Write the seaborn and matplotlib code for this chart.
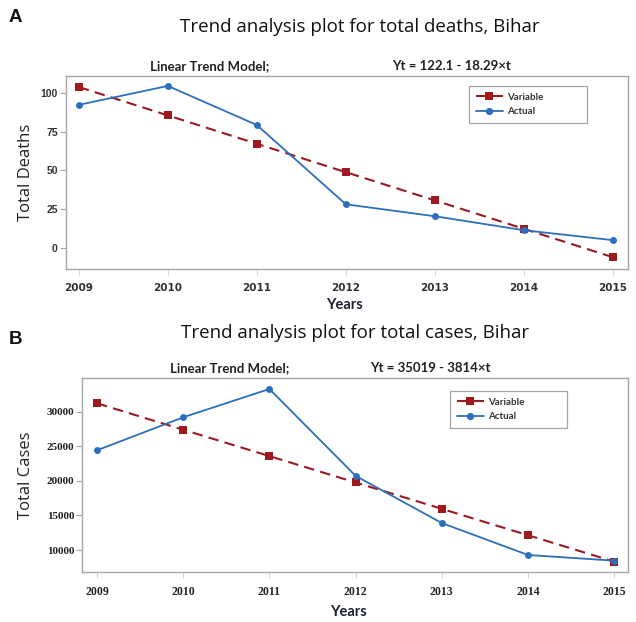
import matplotlib
matplotlib.use("Agg")
import matplotlib.pyplot as plt
import seaborn as sns
import pandas as pd

sns.set_theme(style="white")
plt.rcParams['font.family'] = ['DejaVu Sans']

years = [2009, 2010, 2011, 2012, 2013, 2014, 2015]

deaths_actual = [92.3, 104.5, 79.3, 28.2, 20.5, 11.5, 5.1]
deaths_trend = [103.8, 85.5, 67.2, 48.9, 30.7, 12.4, -5.9]

cases_actual = [24420, 29190, 33280, 20720, 13900, 9280, 8460]
cases_trend = [31205, 27391, 23577, 19763, 15949, 12135, 8321]

titles = ["Trend analysis plot for total deaths, Bihar",
          "Trend analysis plot for total cases, Bihar"]
equations = ["Yt = 122.1 - 18.29\u00d7t", "Yt = 35019 - 3814\u00d7t"]
ylabels = ["Total Deaths", "Total Cases"]
panel_letters = ["A", "B"]
deaths_yticks = [0, 25, 50, 75, 100]
cases_yticks = [10000, 15000, 20000, 25000, 30000]

RED = "#9c1a1f"
BLUE = "#2b6fbd"
SPINE = "#a6a6a6"

W, H = 636, 622
fig = plt.figure(figsize=(6.36, 6.22), dpi=100)

def px_axes(l, t, r, b):
    return fig.add_axes([l / W, 1 - b / H, (r - l) / W, (b - t) / H])

axA = px_axes(65.5, 76, 628, 269)
axB = px_axes(82, 378, 628, 571.7)

def draw(ax, actual, trend, yticks, ylim, xlim, tickfont_x, tickfont_y, leg_bbox):
    df_t = pd.DataFrame({"Year": years, "Value": trend})
    df_a = pd.DataFrame({"Year": years, "Value": actual})
    sns.lineplot(data=df_t, x="Year", y="Value", ax=ax, color=RED, marker="s",
                 markersize=5.2, markeredgewidth=0, linewidth=1.5,
                 linestyle=(0, (5, 3)), label="Variable")
    sns.lineplot(data=df_a, x="Year", y="Value", ax=ax, color=BLUE, marker="o",
                 markersize=5, markeredgewidth=0, linewidth=1.3, label="Actual")
    ax.set_xlim(*xlim)
    ax.set_ylim(*ylim)
    ax.set_xticks(years)
    ax.set_xticklabels([str(y) for y in years], **tickfont_x)
    ax.set_yticks(yticks)
    ax.set_yticklabels([str(v) for v in yticks], **tickfont_y)
    ax.set_xlabel("")
    ax.set_ylabel("")
    for s in ax.spines.values():
        s.set_color(SPINE)
        s.set_linewidth(1.0)
    ax.tick_params(axis="y", direction="out", length=4, width=0.8, color=SPINE, pad=1.5, left=True)
    ax.tick_params(axis="x", direction="out", length=4, width=0.6, color="#cccccc", pad=6, bottom=True)
    leg = ax.legend(loc="upper left", bbox_to_anchor=leg_bbox, mode="expand", borderaxespad=0,
                    frameon=True, fancybox=False, edgecolor="#8c8c8c",
                    prop={"family": "Lato", "size": 7, "weight": "bold"},
                    handlelength=2.8, handletextpad=0.4, labelspacing=0.55,
                    borderpad=0.7, markerscale=1.05)
    leg.get_frame().set_linewidth(0.9)
    for t in leg.get_texts():
        t.set_color("#333333")

# legend bboxes (axes fraction): x0, y0, width, height
legA = (0.717, 0.7565, 0.21, 0.1915)
legB = (0.674, 0.747, 0.214, 0.186)

draw(axA, deaths_actual, deaths_trend, deaths_yticks, (-13.5, 110.9), (2008.85, 2015.17),
     {"family": "DejaVu Sans", "fontsize": 7.5, "fontweight": "bold", "color": "#333333"},
     {"family": "Liberation Sans", "fontsize": 7.5, "fontweight": "bold", "color": "#333333"},
     legA)
draw(axB, cases_actual, cases_trend, cases_yticks, (6864, 34870), (2008.826, 2015.16),
     {"family": "Liberation Serif", "fontsize": 8.5, "fontweight": "bold", "color": "#222222"},
     {"family": "Liberation Serif", "fontsize": 8, "fontweight": "bold", "color": "#222222"},
     legB)

def ftext(x, y, s, **kw):
    fig.text(x / W, 1 - y / H, s, **kw)

# Panel letters
ftext(15.5, 18, panel_letters[0], ha="center", va="center", fontsize=13.5, fontweight="bold",
      family="Liberation Sans", color="#111111")
ftext(16, 340, panel_letters[1], ha="center", va="center", fontsize=13.5, fontweight="bold",
      family="Liberation Sans", color="#111111")

# Main titles
ftext(360, 27, titles[0], ha="center", va="center", fontsize=13.5, family="Open Sans", color="#111111")
ftext(355, 333, titles[1], ha="center", va="center", fontsize=13.5, family="Open Sans", color="#111111")

# Sub titles
ftext(210, 66, "Linear Trend Model;", ha="center", va="center", fontsize=9.5, family="Lato",
      fontweight="bold", color="#222222")
ftext(452, 66, equations[0], ha="center", va="center", fontsize=9.5, family="Lato",
      fontweight="bold", color="#222222")
ftext(230, 368, "Linear Trend Model;", ha="center", va="center", fontsize=9.5, family="Lato",
      fontweight="bold", color="#222222")
ftext(430, 368, equations[1], ha="center", va="center", fontsize=9.5, family="Lato",
      fontweight="bold", color="#222222")

# y labels
ftext(26, 172, ylabels[0], ha="center", va="center", rotation=90, fontsize=12,
      family="Open Sans", color="#222222")
ftext(26, 475, ylabels[1], ha="center", va="center", rotation=90, fontsize=12,
      family="Open Sans", color="#222222")

# x labels
ftext(344, 305, "Years", ha="center", va="center", fontsize=10.5, family="Lato",
      fontweight="bold", color="#1c2030")
ftext(348, 612, "Years", ha="center", va="center", fontsize=10.5, family="Lato",
      fontweight="bold", color="#1c2030")

fig.savefig("out.png", dpi=100)
